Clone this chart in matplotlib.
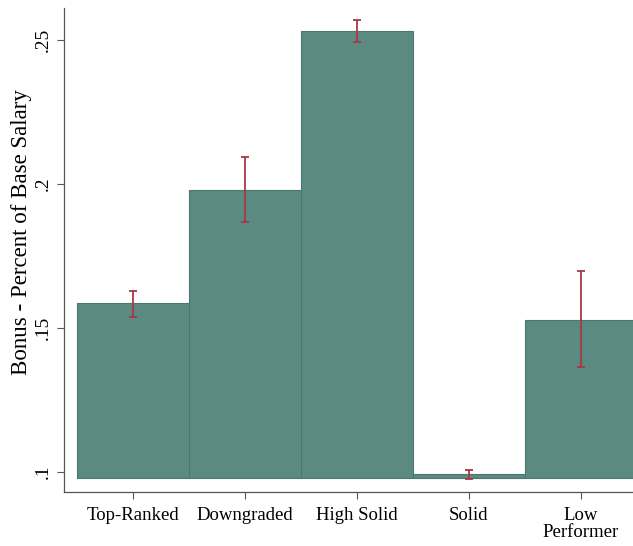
import matplotlib.pyplot as plt
import numpy as np

categories = ["Top-Ranked", "Downgraded", "High Solid", "Solid", "Low\nPerformer"]
bonus = [0.1587, 0.1979, 0.2532, 0.0995, 0.1528]
ci_low = [0.1539, 0.1869, 0.2494, 0.0977, 0.1365]
ci_high = [0.1630, 0.2095, 0.2569, 0.1009, 0.1698]
yticks = [0.10, 0.15, 0.20, 0.25]
ytick_labels = [".1", ".15", ".2", ".25"]

base = 0.0979  # bars start at the bottom of the plot region, like stata

plt.rcParams['font.family'] = ['Liberation Serif', 'DejaVu Serif']

fig = plt.figure(figsize=(6.33, 5.46), dpi=100)
ax = fig.add_axes([0.1011, 0.0989, 0.8989, 0.8864])

x = np.arange(len(categories))
heights = [b - base for b in bonus]
ax.bar(x, heights, bottom=base, width=1.0, color='#5a8a82',
       edgecolor='#4a7870', linewidth=0.8, zorder=2)

lo = [b - l for b, l in zip(bonus, ci_low)]
hi = [h - b for b, h in zip(bonus, ci_high)]
ax.errorbar(x, bonus, yerr=[lo, hi], fmt='none', ecolor='#a63845',
            elinewidth=1.3, capsize=3, capthick=1.3, zorder=3)

ax.set_xlim(-0.616, 4.465)
ax.set_ylim(0.0931, 0.2611)
ax.set_xticks(x)
ax.set_xticklabels(categories, fontsize=13.5, linespacing=0.95)
ax.set_yticks(yticks)
ax.set_yticklabels(ytick_labels, fontsize=14, rotation=90, va='center')
ax.set_ylabel("Bonus - Percent of Base Salary", fontsize=16.5)
ax.yaxis.set_label_coords(-0.057, 0.537)

for s in ['top', 'right']:
    ax.spines[s].set_visible(False)
for s in ['left', 'bottom']:
    ax.spines[s].set_color('#555555')
    ax.spines[s].set_linewidth(0.9)
ax.tick_params(axis='x', direction='out', length=5, color='#555555', pad=6)
ax.tick_params(axis='y', direction='out', length=5, color='#555555', pad=4)

fig.savefig("out.png", dpi=100)
